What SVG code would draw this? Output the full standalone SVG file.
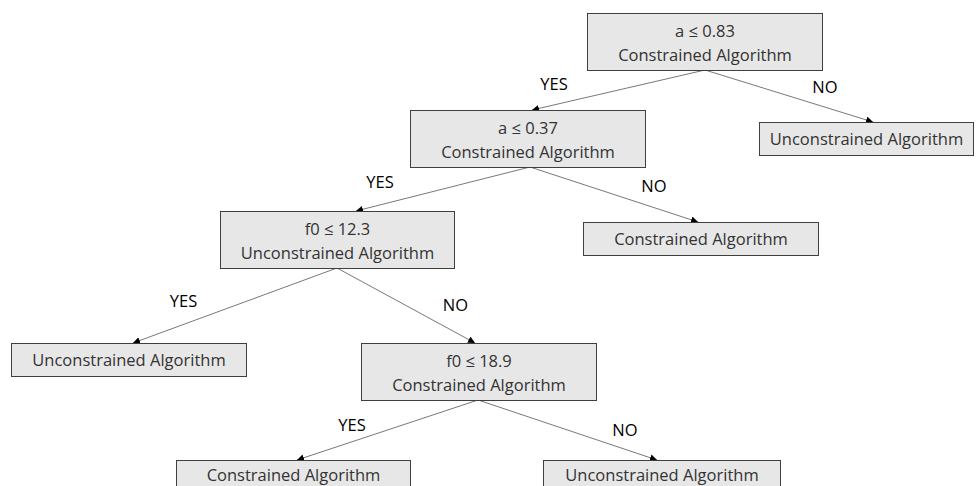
<svg xmlns="http://www.w3.org/2000/svg" width="980" height="486" viewBox="0 0 980 486">
<style>
.box{fill:#e7e7e7;stroke:#3f3f3f;stroke-width:1}
.t{font-family:"Open Sans","Noto Sans",sans-serif;font-size:16.5px;fill:#333;text-anchor:middle}
.lbl{font-family:"Open Sans","Noto Sans",sans-serif;font-size:16.5px;fill:#000;text-anchor:middle}
.edge{stroke:#555;stroke-width:0.8;fill:none;marker-end:url(#arr)}
</style>
<defs>
<marker id="arr" viewBox="0 0 10 10" refX="10" refY="5" markerWidth="7" markerHeight="7" markerUnits="userSpaceOnUse" orient="auto">
<path d="M0,0 L10,5 L0,10 z" fill="#000"/>
</marker>
</defs>
<rect width="980" height="486" fill="#fff"/>
<g id="connectors">
<line class="edge" x1="705" y1="70" x2="532" y2="110"/>
<line class="edge" x1="705" y1="70" x2="873" y2="122"/>
<line class="edge" x1="530" y1="167" x2="356" y2="211"/>
<line class="edge" x1="530" y1="167" x2="698" y2="222"/>
<line class="edge" x1="337" y1="268" x2="133" y2="343"/>
<line class="edge" x1="337" y1="268" x2="475" y2="343"/>
<line class="edge" x1="478" y1="400" x2="297" y2="460"/>
<line class="edge" x1="478" y1="400" x2="657" y2="460"/>
</g>
<g id="labels">
<text class="lbl" x="554" y="90">YES</text>
<text class="lbl" x="825" y="93">NO</text>
<text class="lbl" x="380" y="188">YES</text>
<text class="lbl" x="654" y="192">NO</text>
<text class="lbl" x="183.5" y="307">YES</text>
<text class="lbl" x="455.5" y="311">NO</text>
<text class="lbl" x="352" y="431">YES</text>
<text class="lbl" x="625" y="436">NO</text>
</g>
<g id="n1"><rect class="box" x="587.5" y="13.5" width="235" height="57"/><text class="t" x="705" y="37">a ≤ 0.83</text><text class="t" x="705" y="61">Constrained Algorithm</text></g>
<g id="n2"><rect class="box" x="759.5" y="122.5" width="214" height="33"/><text class="t" x="866.5" y="145">Unconstrained Algorithm</text></g>
<g id="n3"><rect class="box" x="410.5" y="110.5" width="235" height="57"/><text class="t" x="528" y="134">a ≤ 0.37</text><text class="t" x="528" y="158">Constrained Algorithm</text></g>
<g id="n4"><rect class="box" x="583.5" y="222.5" width="235" height="33"/><text class="t" x="701" y="245">Constrained Algorithm</text></g>
<g id="n5"><rect class="box" x="220.5" y="211.5" width="234" height="57"/><text class="t" x="337.5" y="235">f0 ≤ 12.3</text><text class="t" x="337.5" y="259">Unconstrained Algorithm</text></g>
<g id="n6"><rect class="box" x="11.5" y="343.5" width="235" height="33"/><text class="t" x="129" y="366">Unconstrained Algorithm</text></g>
<g id="n7"><rect class="box" x="361.5" y="343.5" width="235" height="57"/><text class="t" x="479" y="367">f0 ≤ 18.9</text><text class="t" x="479" y="391">Constrained Algorithm</text></g>
<g id="n8"><rect class="box" x="176.5" y="460.5" width="234" height="33"/><text class="t" x="293.5" y="481">Constrained Algorithm</text></g>
<g id="n9"><rect class="box" x="543.5" y="460.5" width="237" height="33"/><text class="t" x="662" y="481">Unconstrained Algorithm</text></g>
</svg>
